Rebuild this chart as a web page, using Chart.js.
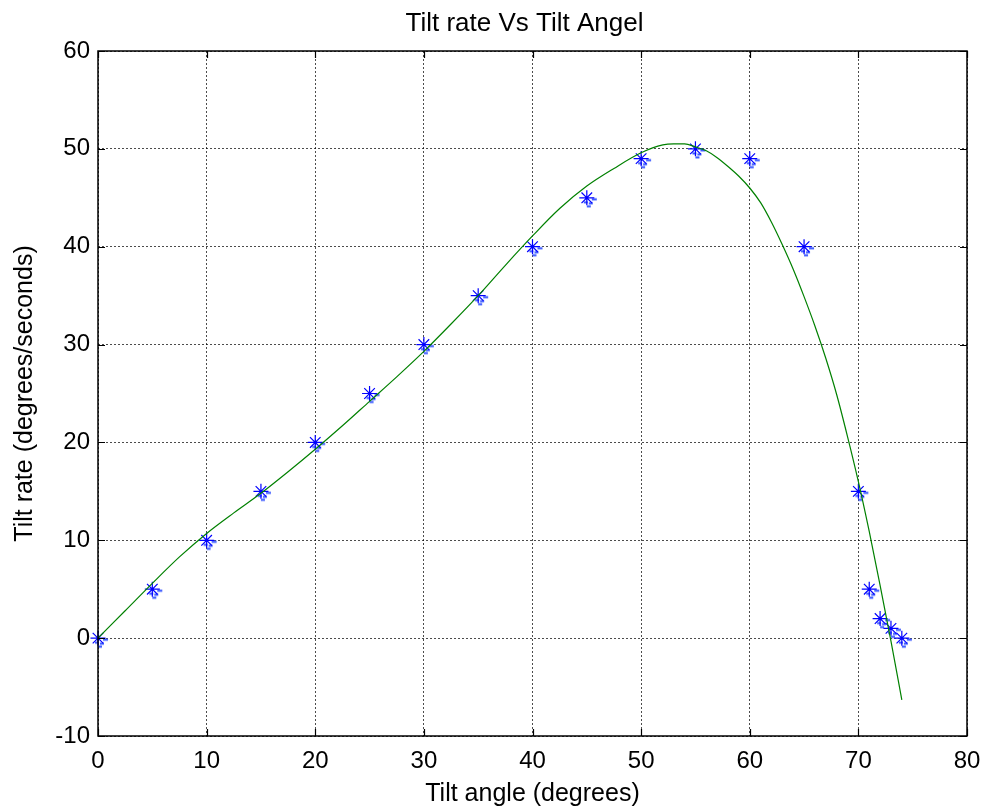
<!DOCTYPE html>
<html>
<head>
<meta charset="utf-8">
<script src="https://cdn.jsdelivr.net/npm/chart.js@4.4.0/dist/chart.umd.min.js"></script>
<style>
  html, body { margin: 0; padding: 0; background: #ffffff; }
  #wrap { width: 984px; height: 811px; position: relative; }
</style>
</head>
<body>
<div id="wrap"><canvas id="c" width="984" height="811"></canvas></div>
<script>
// ---- Data ----
const chartTitle = "Tilt rate Vs Tilt Angel";
const xAxisTitle = "Tilt angle (degrees)";
const yAxisTitle = "Tilt rate (degrees/seconds)";

const measuredAngle = [0, 5, 10, 15, 20, 25, 30, 35, 40, 45, 50, 55, 60, 65, 70, 71, 72, 73, 74];
const measuredRate  = [0, 5, 10, 15, 20, 25, 30, 35, 40, 45, 49, 50, 49, 40, 15, 5, 2, 1, 0];

const fitAngle = [0, 2.5, 5, 7.5, 10, 12.5, 15, 17.5, 20, 22.5, 25, 27.5, 30, 32.5, 35, 37.5, 40, 42.5, 45, 47.5,
                  50, 52, 53, 54, 55, 56, 57, 58, 59, 60, 61, 62, 63, 64, 65, 66, 67, 68, 69, 70, 71, 72, 73, 74];
const fitRate  = [0, 2.8, 5.6, 8.3, 10.7, 12.8, 14.8, 17.0, 19.3, 21.7, 24.2, 26.7, 29.3, 32.1, 35.0, 38.1, 41.1, 43.9, 46.2, 48.0,
                  49.6, 50.4, 50.5, 50.5, 50.2, 49.8, 49.1, 48.2, 47.2, 46.0, 44.5, 42.5, 40.2, 37.7, 34.9, 31.9, 28.6, 24.9, 20.6, 16.0, 10.9, 5.4, -0.3, -6.3];

const xTicks = [0, 10, 20, 30, 40, 50, 60, 70, 80];
const yTicks = [-10, 0, 10, 20, 30, 40, 50, 60];

// ---- small dash fragments seen under each asterisk ----
function makeDashes() {
  const cv = document.createElement('canvas');
  cv.width = 32; cv.height = 32;
  const g = cv.getContext('2d');
  const c = 16;
  g.strokeStyle = '#2f4fff';
  g.lineWidth = 1.8;
  g.beginPath();
  g.moveTo(c + 5, c + 1.5); g.lineTo(c + 10, c + 1.5);
  g.moveTo(c - 3, c + 4.5); g.lineTo(c + 1, c + 4.5);
  g.moveTo(c + 2, c + 5.5); g.lineTo(c + 6, c + 5.5);
  g.moveTo(c, c + 8.5); g.lineTo(c + 4, c + 8.5);
  g.stroke();
  return cv;
}
const dashes = makeDashes();

const FONT = "'Liberation Sans', Arial, Helvetica, sans-serif";

// frame + inward ticks on all four sides, and the title text
const framePlugin = {
  id: 'frame',
  afterDatasetsDraw(chart) {
    const { ctx, chartArea: a, scales } = chart;
    ctx.save();
    ctx.strokeStyle = '#000';
    ctx.lineWidth = 1.5;
    ctx.strokeRect(a.left, a.top, a.right - a.left, a.bottom - a.top);
    ctx.lineWidth = 1.2;
    const L = 7;
    ctx.beginPath();
    xTicks.forEach(v => {
      const px = Math.round(scales.x.getPixelForValue(v)) + 0.5;
      ctx.moveTo(px, a.bottom); ctx.lineTo(px, a.bottom - L);
      ctx.moveTo(px, a.top); ctx.lineTo(px, a.top + L);
    });
    yTicks.forEach(v => {
      const py = Math.round(scales.y.getPixelForValue(v)) + 0.5;
      ctx.moveTo(a.left, py); ctx.lineTo(a.left + L, py);
      ctx.moveTo(a.right, py); ctx.lineTo(a.right - L, py);
    });
    ctx.stroke();
    // title
    ctx.fillStyle = '#000';
    ctx.font = "26px " + FONT;
    ctx.textAlign = 'center';
    ctx.textBaseline = 'alphabetic';
    ctx.fillText(chartTitle, (a.left + a.right) / 2 - 8, 31);
    ctx.restore();
  }
};

const measuredPoints = measuredAngle.map((x, i) => ({ x, y: measuredRate[i] }));

new Chart(document.getElementById('c'), {
  type: 'scatter',
  data: {
    datasets: [
      {
        label: 'measured-dashes',
        data: measuredPoints,
        pointStyle: dashes,
        pointRadius: 8,
        showLine: false,
        clip: false,
        order: 3
      },
      {
        label: 'measured',
        data: measuredPoints,
        pointStyle: 'star',
        pointRadius: 7.5,
        borderColor: '#0000ff',
        backgroundColor: '#0000ff',
        pointBorderWidth: 1.2,
        showLine: false,
        clip: false,
        order: 2
      },
      {
        label: 'fit',
        data: fitAngle.map((x, i) => ({ x, y: fitRate[i] })),
        showLine: true,
        borderColor: '#008000',
        borderWidth: 1.2,
        pointRadius: 0,
        cubicInterpolationMode: 'monotone',
        order: 1
      }
    ]
  },
  options: {
    responsive: false,
    animation: false,
    devicePixelRatio: 1,
    layout: { padding: { top: 51, right: 17, left: 0, bottom: 0 } },
    plugins: {
      legend: { display: false },
      tooltip: { enabled: false },
      title: { display: false }
    },
    scales: {
      x: {
        type: 'linear',
        min: 0, max: 80,
        afterBuildTicks: s => { s.ticks = xTicks.map(v => ({ value: v })); },
        afterFit: s => { s.height = 75; s.paddingLeft = 0; s.paddingRight = 0; },
        grid: { color: 'rgba(0,0,0,0.7)', lineWidth: 1, drawTicks: false },
        border: { display: false, dash: [2, 2] },
        ticks: { color: '#000', font: { family: FONT, size: 24 }, padding: 11, maxRotation: 0 },
        title: {
          display: true, text: xAxisTitle, color: '#000',
          font: { family: FONT, size: 25, lineHeight: 1.2 },
          padding: { top: 0, bottom: 2 }
        }
      },
      y: {
        type: 'linear',
        min: -10, max: 60,
        afterBuildTicks: s => { s.ticks = yTicks.map(v => ({ value: v })); },
        afterFit: s => { s.width = 98; s.paddingTop = 0; s.paddingBottom = 0; },
        grid: { color: 'rgba(0,0,0,0.7)', lineWidth: 1, drawTicks: false },
        border: { display: false, dash: [2, 2] },
        ticks: { color: '#000', font: { family: FONT, size: 24 }, padding: 8 },
        title: {
          display: true, text: yAxisTitle, color: '#000',
          font: { family: FONT, size: 25, lineHeight: 1.2 },
          padding: { top: 10, bottom: 0 }
        }
      }
    }
  },
  plugins: [framePlugin]
});
</script>
</body>
</html>
